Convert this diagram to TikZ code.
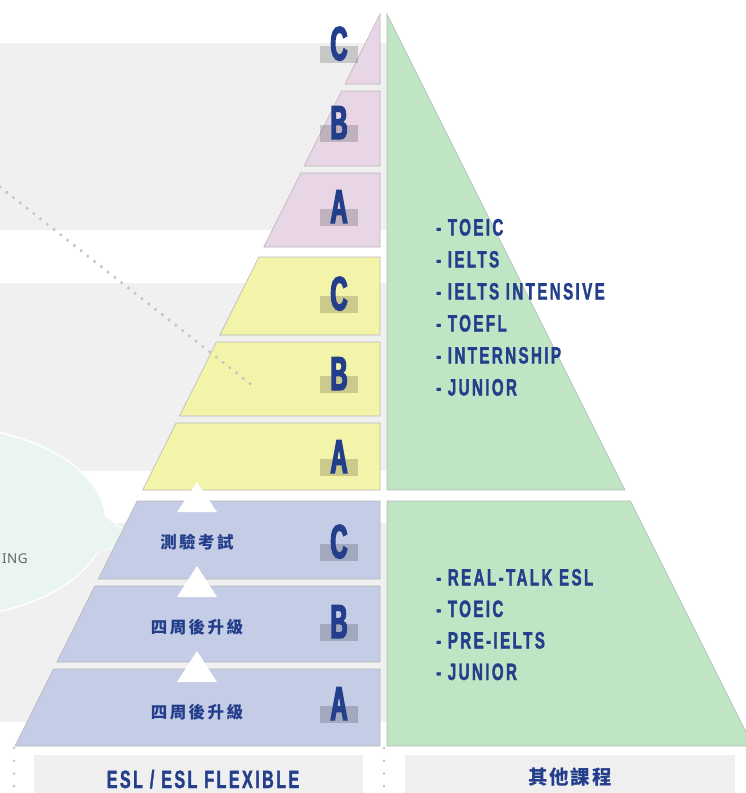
\documentclass[tikz,border=0pt]{standalone}
\usepackage{fontspec}
\setmainfont{Liberation Sans}
\newfontfamily\condfont[FakeStretch=0.64,LetterSpace=10,FakeBold=1.5]{Liberation Sans}
\newfontfamily\bigfont[FakeStretch=0.5,FakeBold=3]{Liberation Sans}
\newfontfamily\cjkfont[LetterSpace=15]{Noto Sans CJK TC}
\newfontfamily\cjkbot[LetterSpace=10]{Noto Sans CJK TC}
\newfontfamily\notosans[LetterSpace=4]{Noto Sans}
\definecolor{txtblue}{HTML}{233E8B}
\definecolor{pinkc}{HTML}{E8D5E6}
\definecolor{yelc}{HTML}{F3F3AA}
\definecolor{bluec}{HTML}{C4CCE6}
\definecolor{greenc}{HTML}{BFE5C5}
\definecolor{bandgray}{HTML}{F0F0F0}
\definecolor{mint}{HTML}{EAF4F1}
\definecolor{dotgray}{HTML}{C4C4C4}
\definecolor{labelgray}{HTML}{EFEFEF}
\tikzset{
  levelletter/.style={inner sep=0pt, text=txtblue, font=\bigfont\bfseries\fontsize{47.5}{50}\selectfont},
  listline/.style={inner sep=0pt, anchor=base west, text=txtblue, font=\condfont\bfseries\fontsize{23.7}{28}\selectfont},
  steplabel/.style={inner sep=0pt, text=txtblue, font=\cjkfont\bfseries\fontsize{16.5}{20}\selectfont},
  bandshape/.style={draw=black!28, line width=0.6pt},
  dotline/.style={draw=dotgray, line width=3.4pt, line cap=round},
}
\begin{document}
\begin{tikzpicture}[x=1pt,y=-1pt]
\useasboundingbox (0,0) rectangle (746,793);
\clip (0,0) rectangle (746,793);
% background gray bands
\fill[bandgray] (0,43) rectangle (390,230);
\fill[bandgray] (0,283) rectangle (390,471);
\fill[bandgray] (0,523) rectangle (390,722);
% speech ellipse
\draw[white, line width=3pt] (-60,522) ellipse [x radius=165, y radius=95];
\draw[white, line width=3pt] (100,514) -- (135,538) -- (96,552);
\fill[mint] (-60,522) ellipse [x radius=165, y radius=95];
\fill[mint] (98,512) -- (135,538) -- (94,554) -- cycle;
\node[inner sep=0pt, anchor=base east, text=black!60, font=\notosans\fontsize{13.5}{16}\selectfont] (ing) at (28,563) {ING};
% left half pyramid
\foreach \tp/\bt/\col/\lt/\bl [count=\i] in {14/84/pinkc/C/60, 91/166/pinkc/B/139, 173/247/pinkc/A/223, 257/335/yelc/C/310, 342/416/yelc/B/390, 423/490/yelc/A/473, 501/579/bluec/C/558, 586/662/bluec/B/638, 669/746/bluec/A/720}
{
  \pgfmathsetmacro\xt{380-(\tp-14)*0.498634}
  \pgfmathsetmacro\xb{380-(\bt-14)*0.498634}
  \filldraw[bandshape, fill=\col] (\xt,\tp) -- (380,\tp) -- (380,\bt) -- (\xb,\bt) -- cycle;
  \fill[black, opacity=0.17] (320,\bl-14) rectangle (358,\bl+3);
  \node[levelletter, anchor=base] (lv\i) at (339,\bl) {\lt};
}
% right green part
\filldraw[bandshape, fill=greenc] (387,14) -- (625,490) -- (387,490) -- cycle;
\filldraw[bandshape, fill=greenc] (387,501) -- (630.5,501) -- (753,746) -- (387,746) -- cycle;
% white step arrows
\fill[white] (177,512) -- (217,512) -- (197,482) -- cycle;
\fill[white] (177,597) -- (217,597) -- (197,566) -- cycle;
\fill[white] (177,682) -- (217,682) -- (197,651) -- cycle;
\node[steplabel] (s1) at (197,542) {測驗考試};
\node[steplabel] (s2) at (197,627) {四周後升級};
\node[steplabel] (s3) at (197,712) {四周後升級};
% lists
\foreach \tx [count=\i] in {TOEIC, IELTS, IELTS INTENSIVE, TOEFL, INTERNSHIP, JUNIOR}
  \node[listline] (up\i) at (436,235.5+32*\i-32) {- \tx};
\foreach \tx [count=\i] in {REAL-TALK ESL, TOEIC, PRE-IELTS, JUNIOR}
  \node[listline] (lo\i) at (436,585.5+31.5*\i-31.5) {- \tx};
% dotted pointer line
\coordinate (d1) at (0,187);
\coordinate (d2) at (253,386);
\draw[dotline, dash pattern=on 0pt off 8.6pt] (d1) -- (d2);
% bottom dotted verticals
\coordinate (v1) at (14,748); \coordinate (v2) at (14,800);
\coordinate (v3) at (384,748); \coordinate (v4) at (384,800);
\draw[dotline, line width=2.8pt, dash pattern=on 0pt off 12.7pt] (v1) -- (v2);
\draw[dotline, line width=2.8pt, dash pattern=on 0pt off 12.7pt] (v3) -- (v4);
% bottom labels
\fill[labelgray] (34,755) rectangle (363,800);
\fill[labelgray] (405,755) rectangle (735,800);
\node[inner sep=0pt, anchor=base, text=txtblue, font=\condfont\bfseries\fontsize{25}{28}\selectfont] (esl) at (203,788) {ESL / ESL FLEXIBLE};
\node[inner sep=0pt, text=txtblue, font=\cjkbot\bfseries\fontsize{19.5}{22}\selectfont] (other) at (570,777) {其他課程};
\end{tikzpicture}
\end{document}
